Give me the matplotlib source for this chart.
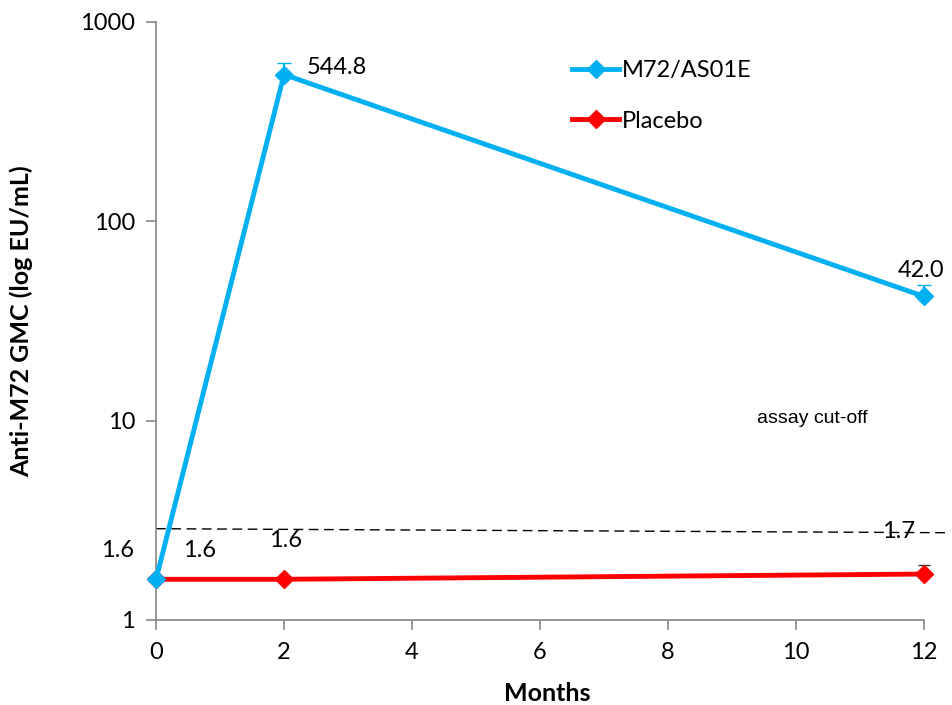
import matplotlib
matplotlib.use('Agg')
import matplotlib.pyplot as plt
from matplotlib.ticker import FixedLocator, NullLocator
from matplotlib.lines import Line2D

plt.rcParams['font.family'] = ['Lato', 'DejaVu Sans']

# Data
months = [0, 2, 12]
vaccine_gmc = [1.6, 544.8, 42.0]
vaccine_upper = [0, 78, 6.2]
placebo_gmc = [1.6, 1.6, 1.7]
placebo_upper = [0, 0, 0.18]
vaccine_labels = ['', '544.8', '42.0']
placebo_labels = ['1.6', '1.6', '1.7']
cutoff = [2.87, 2.74]
y_ticks = [1, 10, 100, 1000]
x_ticks = [0, 2, 4, 6, 8, 10, 12]

blue = '#00B0F0'
red = '#FF0000'
gray = '#868686'
fs = 17

fig = plt.figure(figsize=(9.52, 7.05), dpi=100)
ax = fig.add_axes([0.1639, 0.1206, 0.8067, 0.8482])

ax.set_yscale('log')
ax.set_xlim(0, 12)
ax.set_ylim(1, 1000)

# assay cut-off (dashed, runs a bit past the axis)
ax.plot([0, 12.4], cutoff, ls=(0, (7, 4)), color='black', lw=1, clip_on=False, zorder=1)

ax.errorbar(months, placebo_gmc, yerr=[[0, 0, 0], placebo_upper], color=red, lw=3.5,
            marker='D', markersize=9, ecolor='#333333', elinewidth=1, capsize=4,
            clip_on=False, zorder=3)
ax.errorbar(months, vaccine_gmc, yerr=[[0, 0, 0], vaccine_upper], color=blue, lw=3.5,
            marker='D', markersize=9, ecolor=blue, elinewidth=1.5, capsize=5,
            clip_on=False, zorder=4)

# data labels
ax.text(2.36, 589, vaccine_labels[1], fontsize=fs, ha='left', va='center')
ax.text(11.95, 56.4, vaccine_labels[2], fontsize=fs, ha='center', va='center')
ax.text(0.68, 2.22, placebo_labels[0], fontsize=fs, ha='center', va='center')
ax.text(2.02, 2.5, placebo_labels[1], fontsize=fs, ha='center', va='center')
ax.text(11.6, 2.78, placebo_labels[2], fontsize=fs, ha='center', va='center')
ax.text(-0.6, 2.22, '1.6', fontsize=fs, ha='center', va='center')

ax.text(10.25, 10.3, 'assay cut-off', fontsize=14, ha='center', va='center',
        family=['Liberation Sans Narrow', 'Liberation Sans'])

ax.yaxis.set_major_locator(FixedLocator(y_ticks))
ax.yaxis.set_minor_locator(NullLocator())
ax.set_yticklabels([str(t) for t in y_ticks])
ax.set_xticks(x_ticks)
ax.tick_params(axis='both', labelsize=fs, color=gray, length=7, width=1.2, direction='out')
ax.tick_params(axis='y', pad=8)
ax.tick_params(axis='x', pad=9)

for side in ['top', 'right']:
    ax.spines[side].set_visible(False)
for side in ['left', 'bottom']:
    ax.spines[side].set_color(gray)
    ax.spines[side].set_linewidth(1.2)

ax.set_xlabel('Months', fontsize=18, fontweight='bold')
ax.set_ylabel('Anti-M72 GMC (log EU/mL)', fontsize=18, fontweight='bold')
ax.xaxis.set_label_coords(0.51, -0.104)
ax.yaxis.set_label_coords(-0.160, 0.5)

handles = [Line2D([], [], color=blue, lw=3.5, marker='D', markersize=9),
           Line2D([], [], color=red, lw=3.5, marker='D', markersize=9)]
ax.legend(handles, ['M72/AS01E', 'Placebo'], loc='upper left', bbox_to_anchor=(0.514, 0.972),
          frameon=False, fontsize=fs, handlelength=2.0, handletextpad=0.1, labelspacing=1.25)

fig.savefig('out.png', dpi=100)
